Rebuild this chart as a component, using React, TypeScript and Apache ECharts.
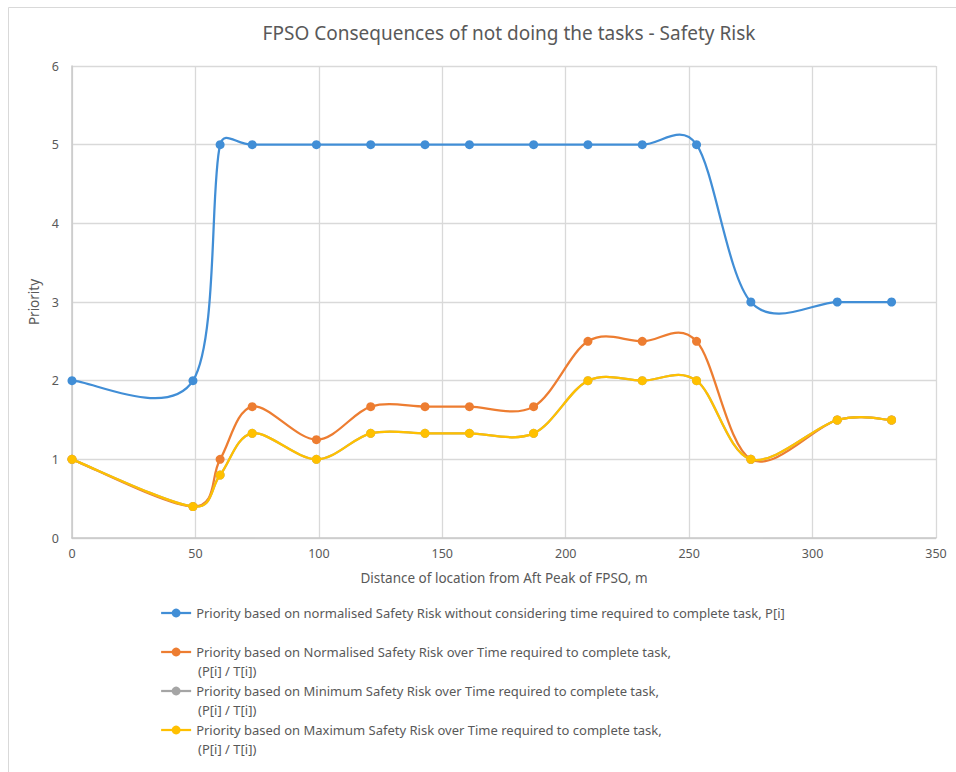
import React, { useEffect, useRef } from "react";
import * as echarts from "echarts";

const TITLE = "FPSO Consequences of not doing the tasks - Safety Risk";
const X_NAME = "Distance of location from Aft Peak of FPSO, m";
const Y_NAME = "Priority";

const distances = [0, 49, 60, 73, 99, 121, 143, 161, 187, 209, 231, 253, 275, 310, 332];
const priorityP = [2, 2, 5, 5, 5, 5, 5, 5, 5, 5, 5, 5, 3, 3, 3];
const priorityNormOverT = [1, 0.4, 1, 1.67, 1.25, 1.67, 1.67, 1.67, 1.67, 2.5, 2.5, 2.5, 1, 1.5, 1.5];
const priorityMinOverT = [1, 0.4, 0.8, 1.33, 1, 1.33, 1.33, 1.33, 1.33, 2, 2, 2, 1, 1.5, 1.5];
const priorityMaxOverT = [1, 0.4, 0.8, 1.33, 1, 1.33, 1.33, 1.33, 1.33, 2, 2, 2, 1, 1.5, 1.5];

const seriesNames = [
  "Priority based on normalised Safety Risk without considering time required to complete task, P[i]",
  "Priority based on Normalised Safety Risk over Time required to complete task,",
  "Priority based on Minimum Safety Risk over Time required to complete task,",
  "Priority based on Maximum Safety Risk over Time required to complete task,",
];
const continuation = "(P[i] / T[i])";
const seriesValues = [priorityP, priorityNormOverT, priorityMinOverT, priorityMaxOverT];
const seriesColors = ["#418ED6", "#ED7D31", "#A5A5A5", "#FFC000"];

const FONT = "'Noto Sans', 'Open Sans', sans-serif";
const TEXT_COLOR = "#595959";

// Spreadsheet-style smoothing: Catmull-Rom tangents (1/6) clipped to half the segment length
function tangent(a: number[], b: number[], maxLen: number) {
  let tx = (b[0] - a[0]) / 6;
  let ty = (b[1] - a[1]) / 6;
  const len = Math.hypot(tx, ty);
  if (len > maxLen && len > 0) {
    tx *= maxLen / len;
    ty *= maxLen / len;
  }
  return [tx, ty];
}

function makeCurveRenderer(values: number[], color: string) {
  return (params: any, api: any) => {
    const i = params.dataIndex;
    const n = distances.length;
    if (i >= n - 1) return null;
    const pt = (k: number) => api.coord([distances[k], values[k]]);
    const p1 = pt(i);
    const p2 = pt(i + 1);
    const p0 = i > 0 ? pt(i - 1) : p1;
    const p3 = i + 2 < n ? pt(i + 2) : p2;
    const half = Math.hypot(p2[0] - p1[0], p2[1] - p1[1]) / 2;
    const t1 = tangent(p0, p2, half);
    const t2 = tangent(p1, p3, half);
    return {
      type: "bezierCurve",
      shape: {
        x1: p1[0],
        y1: p1[1],
        x2: p2[0],
        y2: p2[1],
        cpx1: p1[0] + t1[0],
        cpy1: p1[1] + t1[1],
        cpx2: p2[0] - t2[0],
        cpy2: p2[1] - t2[1],
      },
      style: { stroke: color, lineWidth: 2.25, fill: "none", lineCap: "round" },
    };
  };
}

export default function App() {
  const ref = useRef<HTMLDivElement>(null);
  useEffect(() => {
    if (!ref.current) return;
    const chart = echarts.init(ref.current, null, { renderer: "svg" });
    const legendTop = 606;
    const rowPitch = 39;
    const curveSeries = seriesNames.map((_, si) => ({
      name: "curve" + si,
      type: "custom",
      renderItem: makeCurveRenderer(seriesValues[si], seriesColors[si]),
      data: distances.map((d, i) => [d, seriesValues[si][i]]),
      encode: { x: 0, y: 1 },
      silent: true,
      z: 2 + si * 2,
    }));
    const pointSeries = seriesNames.map((name, si) => ({
      name,
      type: "line",
      symbol: "circle",
      symbolSize: 9,
      showSymbol: true,
      color: seriesColors[si],
      lineStyle: { width: 2.25, color: seriesColors[si], opacity: 0 },
      itemStyle: { color: seriesColors[si] },
      data: distances.map((d, i) => [d, seriesValues[si][i]]),
      z: 3 + si * 2,
    }));
    const option: any = {
      animation: false,
      backgroundColor: "#ffffff",
      textStyle: { fontFamily: FONT },
      grid: { left: 72, right: 20, top: 66, bottom: 234, containLabel: false },
      xAxis: {
        type: "value",
        min: 0,
        max: 350,
        interval: 50,
        name: X_NAME,
        nameLocation: "middle",
        nameGap: 33,
        nameTextStyle: { color: TEXT_COLOR, fontSize: 13.5, fontFamily: FONT },
        axisLine: { show: true, lineStyle: { color: "#c8c8c8", width: 1.5 } },
        axisTick: { show: false },
        axisLabel: { color: TEXT_COLOR, fontSize: 12.5, margin: 9, fontFamily: FONT },
        splitLine: { show: true, lineStyle: { color: "#d9d9d9", width: 1.3 } },
      },
      yAxis: {
        type: "value",
        min: 0,
        max: 6,
        interval: 1,
        name: Y_NAME,
        nameLocation: "middle",
        nameGap: 27,
        nameRotate: 90,
        nameTextStyle: { color: TEXT_COLOR, fontSize: 13.5, fontFamily: FONT },
        axisLine: { show: true, lineStyle: { color: "#c8c8c8", width: 1.5 } },
        axisTick: { show: false },
        axisLabel: { color: TEXT_COLOR, fontSize: 12.5, margin: 13, fontFamily: FONT },
        splitLine: { show: true, lineStyle: { color: "#d9d9d9", width: 1.3 } },
      },
      legend: {
        orient: "vertical",
        left: 160,
        top: legendTop,
        itemWidth: 30,
        itemHeight: 11,
        itemGap: rowPitch - 14,
        padding: 0,
        lineStyle: { opacity: 1, width: 2.25 },
        textStyle: { color: TEXT_COLOR, fontSize: 13, lineHeight: 14, fontFamily: FONT },
        data: seriesNames,
      },
      graphic: [
        {
          type: "rect",
          silent: true,
          shape: { x: 8.5, y: 7.5, width: 1000, height: 1000 },
          style: { fill: "none", stroke: "#d9d9d9", lineWidth: 1 },
        },
        {
          type: "text",
          x: 509,
          y: 33,
          style: {
            text: TITLE,
            fill: TEXT_COLOR,
            font: `19px ${FONT}`,
            textAlign: "center",
            textVerticalAlign: "middle",
          },
        },
        ...[1, 2, 3].map((i) => ({
          type: "text",
          x: 198,
          y: legendTop + 7 + i * rowPitch + 19,
          style: {
            text: continuation,
            fill: TEXT_COLOR,
            font: `13px ${FONT}`,
            textAlign: "left",
            textVerticalAlign: "middle",
          },
        })),
      ],
      series: [...curveSeries, ...pointSeries],
    };
    chart.setOption(option);
    return () => chart.dispose();
  }, []);
  return (
    <div
      ref={ref}
      style={{ position: "absolute", left: 0, top: 0, width: 956, height: 772, background: "#fff" }}
    />
  );
}
